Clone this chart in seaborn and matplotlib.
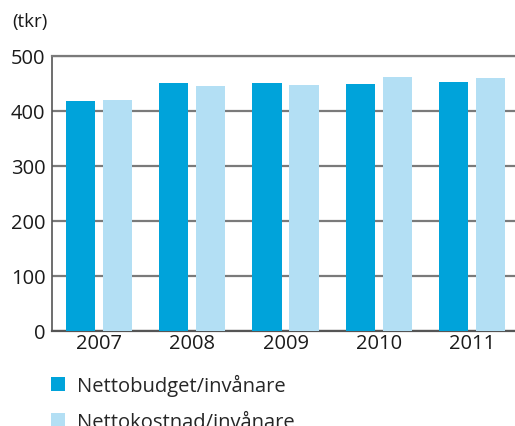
import matplotlib
matplotlib.use("Agg")
import matplotlib.pyplot as plt
import seaborn as sns
import pandas as pd

years = ["2007", "2008", "2009", "2010", "2011"]
series_names = ["Nettobudget/invånare", "Nettokostnad/invånare"]
budget = [418, 451, 451, 449, 453]
kostnad = [420, 445, 447, 462, 460]
yticks = [0, 100, 200, 300, 400, 500]
unit_label = "(tkr)"

colors = ["#00A3DA", "#B3DFF4"]

df = pd.DataFrame({
    "year": years * 2,
    "series": [series_names[0]] * len(years) + [series_names[1]] * len(years),
    "value": budget + kostnad,
})

sns.set_theme(style="white")
plt.rcParams["font.family"] = ["Open Sans", "DejaVu Sans"]

W, H = 515, 427
fig = plt.figure(figsize=(W / 100, H / 100), dpi=100)
left, right, top, bottom = 52.4, 518.6, 57, 332
ax = fig.add_axes([left / W, 1 - bottom / H, (right - left) / W, (bottom - top) / H])

sns.barplot(data=df, x="year", y="value", hue="series", palette=colors,
            width=0.794, gap=0.216, ax=ax, saturation=1, errorbar=None,
            linewidth=0, edgecolor="none", zorder=3)

ax.set_ylim(0, 500)
ax.set_xlim(-0.5, 4.5)
ax.set_yticks(yticks)
ax.set_yticklabels([str(t) for t in yticks])
ax.set_xlabel("")
ax.set_ylabel("")
ax.yaxis.grid(True, color="#7a7a7a", linewidth=1.6, zorder=0)
ax.set_axisbelow(True)
ax.xaxis.grid(False)
ax.spines["right"].set_visible(False)
ax.spines["top"].set_color("#7a7a7a")
ax.spines["top"].set_linewidth(1.6)
ax.spines["left"].set_color("#555555")
ax.spines["left"].set_linewidth(1.2)
ax.spines["bottom"].set_color("#555555")
ax.spines["bottom"].set_linewidth(1.6)
ax.tick_params(axis="both", length=0, labelsize=14.5, colors="#1a1a1a")
ax.tick_params(axis="y", pad=5)
ax.tick_params(axis="x", pad=1.5)

handles, labels = ax.get_legend_handles_labels()
ax.get_legend().remove()
fig.legend(handles, labels, loc="upper left", bbox_to_anchor=(51 / W, 1 - 375 / H),
           frameon=False, fontsize=14.5, handlelength=0.68, handleheight=0.68,
           handletextpad=0.6, labelspacing=0.8, borderpad=0, borderaxespad=0)

fig.text(12 / W, 1 - 22 / H, unit_label, fontsize=13.5, va="center", ha="left", color="#1a1a1a")

fig.savefig("out.png", dpi=100)
